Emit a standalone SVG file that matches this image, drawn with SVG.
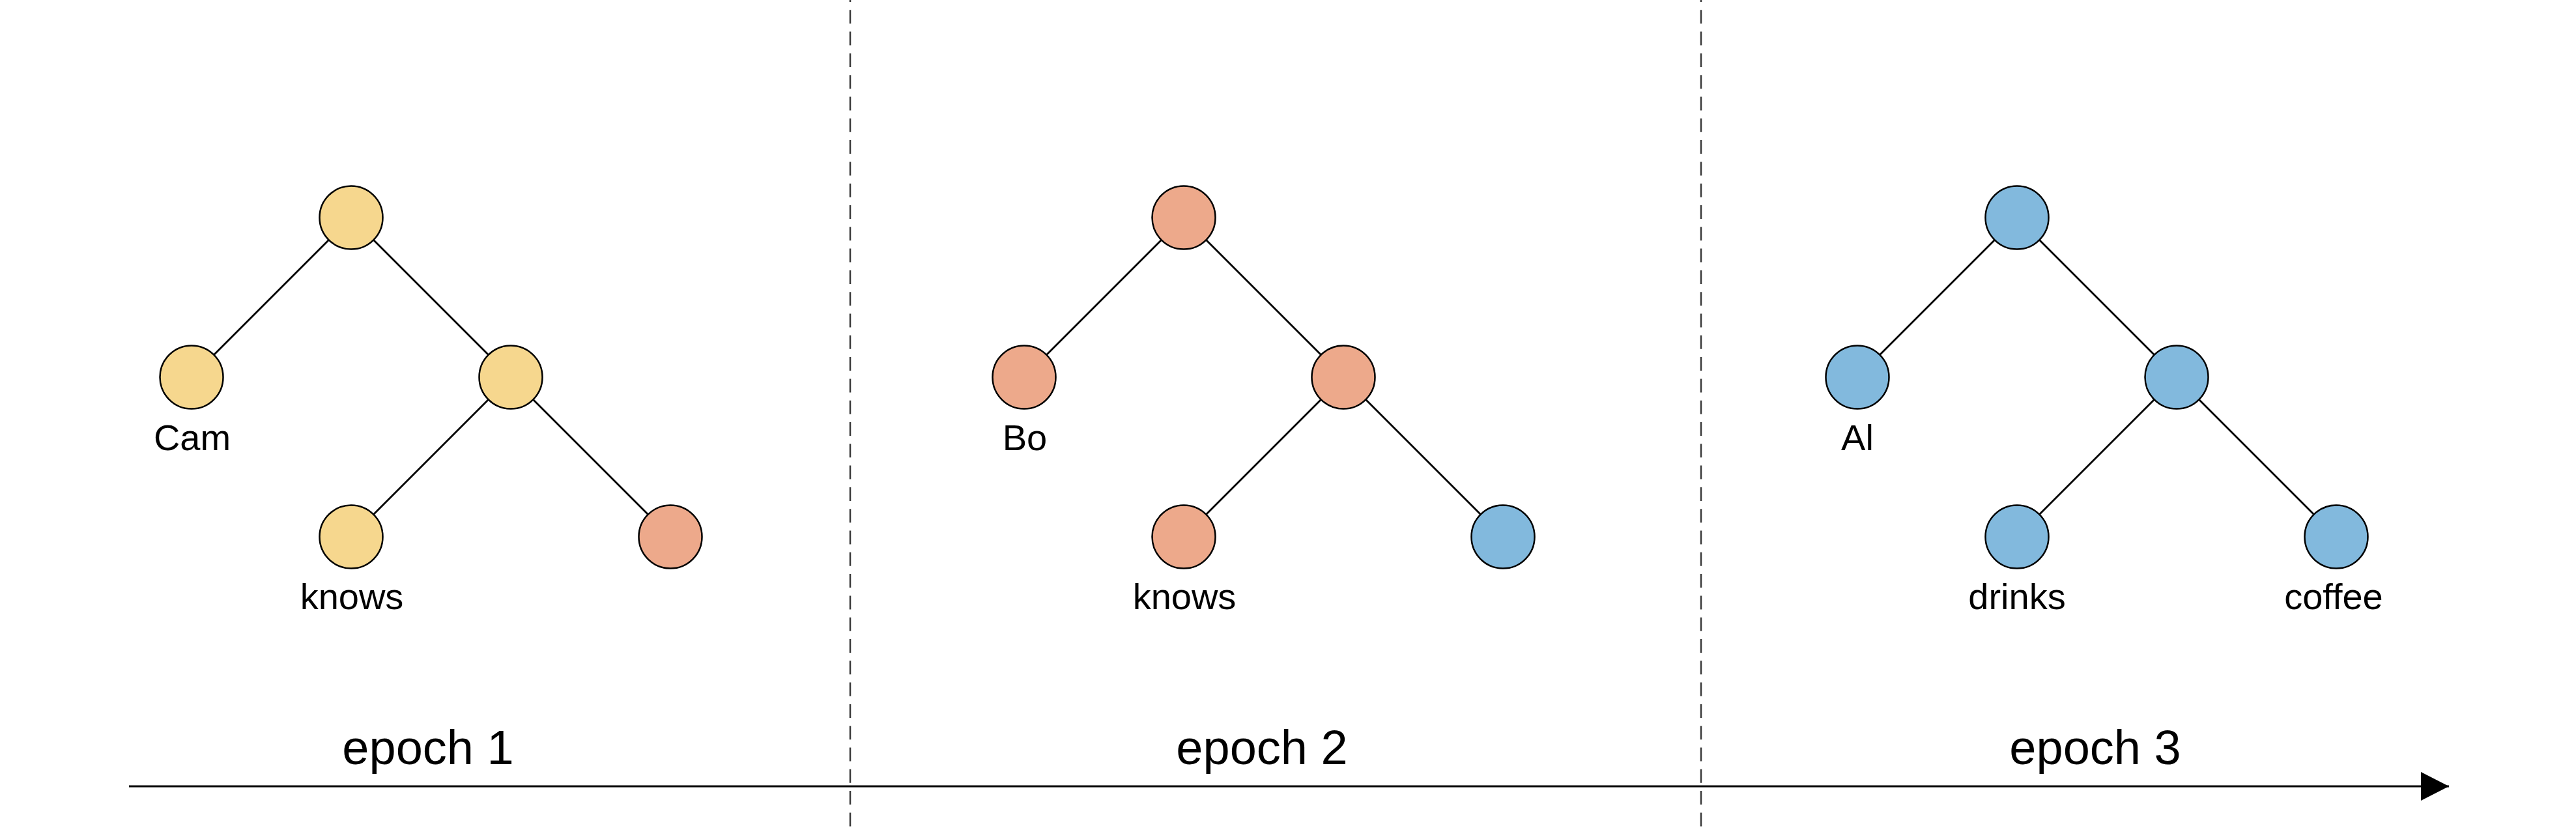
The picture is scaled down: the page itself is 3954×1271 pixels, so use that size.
<svg xmlns="http://www.w3.org/2000/svg" width="3954" height="1271" viewBox="0 0 3954 1271">
<style>
.n{stroke:#000;stroke-width:2.5}
.y{fill:#F6D78E}.s{fill:#EDA98B}.b{fill:#82B9DD}
.lab{font-family:"Liberation Sans",Arial,sans-serif;font-size:56px;fill:#000;text-anchor:middle}
.ep{font-family:"Liberation Sans",Arial,sans-serif;font-size:74px;fill:#000;text-anchor:middle}
.e{stroke:#000;stroke-width:2.8;fill:none}
.d{stroke:#3a3a3a;stroke-width:2.5;stroke-dasharray:21 12.3;stroke-dashoffset:18}
</style>
<defs>
<marker id="arr" markerUnits="userSpaceOnUse" markerWidth="44" markerHeight="44" refX="43" refY="22" orient="auto">
<path d="M0,0 L43,22 L0,44 Z" fill="#000"/>
</marker>
</defs>
<g id="separators">
<line class="d" x1="1305" y1="0" x2="1305" y2="1271"/>
<line class="d" x1="2611" y1="0" x2="2611" y2="1271"/>
</g>
<g id="connectors">
<line class="e" x1="539" y1="334" x2="294" y2="579"/>
<line class="e" x1="539" y1="334" x2="784" y2="579"/>
<line class="e" x1="784" y1="579" x2="539" y2="824"/>
<line class="e" x1="784" y1="579" x2="1029" y2="824"/>
<line class="e" x1="1817" y1="334" x2="1572" y2="579"/>
<line class="e" x1="1817" y1="334" x2="2062" y2="579"/>
<line class="e" x1="2062" y1="579" x2="1817" y2="824"/>
<line class="e" x1="2062" y1="579" x2="2307" y2="824"/>
<line class="e" x1="3096" y1="334" x2="2851" y2="579"/>
<line class="e" x1="3096" y1="334" x2="3341" y2="579"/>
<line class="e" x1="3341" y1="579" x2="3096" y2="824"/>
<line class="e" x1="3341" y1="579" x2="3586" y2="824"/>
<line id="timeline" x1="198" y1="1207" x2="3759" y2="1207" stroke="#000" stroke-width="2.8" marker-end="url(#arr)"/>
</g>
<g id="t1-root"><circle class="n y" cx="539" cy="334" r="48.5"/></g>
<g id="t1-cam"><circle class="n y" cx="294" cy="579" r="48.5"/><text class="lab" x="295" y="691">Cam</text></g>
<g id="t1-mid"><circle class="n y" cx="784" cy="579" r="48.5"/></g>
<g id="t1-knows"><circle class="n y" cx="539" cy="824" r="48.5"/><text class="lab" x="540" y="935">knows</text></g>
<g id="t1-right"><circle class="n s" cx="1029" cy="824" r="48.5"/></g>
<g id="t2-root"><circle class="n s" cx="1817" cy="334" r="48.5"/></g>
<g id="t2-bo"><circle class="n s" cx="1572" cy="579" r="48.5"/><text class="lab" x="1573" y="691">Bo</text></g>
<g id="t2-mid"><circle class="n s" cx="2062" cy="579" r="48.5"/></g>
<g id="t2-knows"><circle class="n s" cx="1817" cy="824" r="48.5"/><text class="lab" x="1818" y="935">knows</text></g>
<g id="t2-right"><circle class="n b" cx="2307" cy="824" r="48.5"/></g>
<g id="t3-root"><circle class="n b" cx="3096" cy="334" r="48.5"/></g>
<g id="t3-al"><circle class="n b" cx="2851" cy="579" r="48.5"/><text class="lab" x="2851" y="691">Al</text></g>
<g id="t3-mid"><circle class="n b" cx="3341" cy="579" r="48.5"/></g>
<g id="t3-drinks"><circle class="n b" cx="3096" cy="824" r="48.5"/><text class="lab" x="3096" y="935">drinks</text></g>
<g id="t3-coffee"><circle class="n b" cx="3586" cy="824" r="48.5"/><text class="lab" x="3582" y="935">coffee</text></g>
<g id="epochs">
<text class="ep" x="657" y="1173">epoch 1</text>
<text class="ep" x="1937" y="1173">epoch 2</text>
<text class="ep" x="3216" y="1173">epoch 3</text>
</g>
</svg>
